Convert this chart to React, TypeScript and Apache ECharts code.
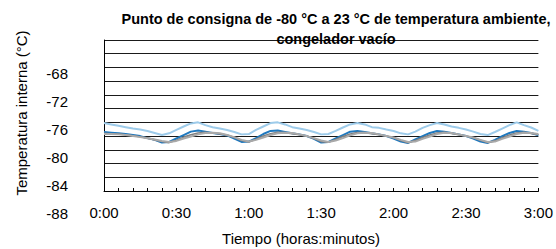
import React, { useEffect, useRef } from 'react';
import * as echarts from 'echarts';

// Time in minutes
const minutes = [
  0, 3, 6, 9, 12, 15, 18, 21, 24, 27, 30, 33, 36, 39, 42, 45, 48, 51, 54, 57,
  60, 63, 66, 69, 72, 75, 78, 81, 84, 87, 90, 93, 96, 99, 102, 105, 108, 111, 114, 117,
  120, 123, 126, 129, 132, 135, 138, 141, 144, 147, 150, 153, 156, 159, 162, 165, 168, 171, 174, 177, 180,
];

const lightBlue = [
  -76.1, -76.3, -76.5, -76.7, -76.9, -77.05, -77.25, -77.55, -77.85, -77.6,
  -77.1, -76.6, -76.15, -76.0, -76.4, -76.7, -76.9, -77.1, -77.4, -77.75,
  -77.7, -77.1, -76.6, -76.1, -76.0, -76.3, -76.7, -76.9, -77.1, -77.4,
  -77.75, -77.7, -77.25, -76.75, -76.3, -76.1, -76.3, -76.7, -76.8, -77.05,
  -77.25, -77.6, -77.75, -77.35, -76.8, -76.4, -76.1, -76.3, -76.6, -76.8,
  -77.05, -77.35, -77.7, -77.85, -77.4, -76.9, -76.4, -76.0, -76.4, -76.75, -77.25,
];

const blue = [
  -77.4, -77.5, -77.6, -77.7, -77.85, -78.0, -78.3, -78.55, -78.95, -78.85,
  -78.35, -77.85, -77.35, -77.2, -77.35, -77.55, -77.7, -77.9, -78.35, -78.85,
  -78.8, -78.3, -77.7, -77.25, -77.2, -77.4, -77.6, -77.75, -78.0, -78.4,
  -78.95, -78.85, -78.35, -77.85, -77.35, -77.25, -77.4, -77.6, -77.75, -78.0,
  -78.35, -78.8, -79.0, -78.5, -78.0, -77.55, -77.25, -77.35, -77.55, -77.75,
  -78.0, -78.35, -78.8, -79.0, -78.55, -78.0, -77.55, -77.25, -77.35, -77.55, -77.9,
];

const darkGray = [
  -77.6, -77.65, -77.7, -77.8, -77.95, -78.1, -78.3, -78.55, -78.8, -78.95,
  -78.6, -78.15, -77.8, -77.55, -77.45, -77.55, -77.7, -77.85, -78.2, -78.65,
  -78.85, -78.45, -78.0, -77.65, -77.45, -77.5, -77.65, -77.8, -78.0, -78.35,
  -78.8, -78.9, -78.5, -78.05, -77.7, -77.5, -77.5, -77.65, -77.8, -78.0,
  -78.25, -78.65, -78.95, -78.65, -78.2, -77.85, -77.55, -77.45, -77.6, -77.8,
  -78.0, -78.25, -78.6, -78.95, -78.7, -78.25, -77.85, -77.55, -77.45, -77.6, -77.8,
];

const gray = [
  -77.7, -77.7, -77.75, -77.85, -78.0, -78.15, -78.3, -78.5, -78.7, -78.85,
  -78.7, -78.35, -78.05, -77.75, -77.55, -77.5, -77.6, -77.85, -78.15, -78.55,
  -78.8, -78.55, -78.2, -77.85, -77.6, -77.5, -77.55, -77.75, -78.0, -78.3,
  -78.65, -78.85, -78.65, -78.3, -77.9, -77.6, -77.5, -77.55, -77.75, -78.0,
  -78.2, -78.55, -78.85, -78.8, -78.4, -78.05, -77.7, -77.5, -77.55, -77.75,
  -78.0, -78.2, -78.55, -78.85, -78.8, -78.4, -78.05, -77.7, -77.5, -77.55, -77.7,
];

// Printed y tick labels (from -88 to -68, step 4)
const yLabelMin = -88;
const yLabelMax = -68;
const yLabelStep = 4;

const titleText = 'Punto de consigna de -80 °C a 23 °C de temperatura ambiente,\ncongelador vacío';
const yTitle = 'Temperatura interna (°C)';
const xTitle = 'Tiempo (horas:minutos)';

const FONT = "'Liberation Sans', Arial, Helvetica, sans-serif";

const fmtTime = (v: number) => {
  const h = Math.floor(v / 60);
  const m = Math.round(v % 60);
  return `${h}:${m < 10 ? '0' : ''}${m}`;
};

export default function App() {
  const ref = useRef<HTMLDivElement>(null);
  useEffect(() => {
    if (!ref.current) return;
    const chart = echarts.init(ref.current, null, { renderer: 'svg' });
    const mk = (data: number[], color: string, width: number) => ({
      type: 'line',
      xAxisIndex: 0,
      yAxisIndex: 0,
      showSymbol: false,
      symbol: 'none',
      data: minutes.map((t, i) => [t, data[i]]),
      lineStyle: { color, width },
      itemStyle: { color },
    });
    chart.setOption({
      animation: false,
      backgroundColor: '#ffffff',
      title: {
        text: titleText,
        left: 331,
        top: 4,
        textAlign: 'center',
        textStyle: {
          fontFamily: FONT,
          fontSize: 14.5,
          fontWeight: 'bold',
          color: '#000',
          lineHeight: 20,
        },
      },
      grid: [
        { left: 104, right: 15, top: 40, bottom: 58 },
        { left: 104, right: 15, top: 73, bottom: 36 },
      ],
      xAxis: [
        {
          gridIndex: 0,
          type: 'value',
          min: 0,
          max: 180,
          interval: 6,
          axisLine: { show: true, lineStyle: { color: '#000', width: 1 } },
          axisTick: { show: true, inside: true, length: 3, lineStyle: { color: '#000' } },
          splitLine: { show: false },
          axisLabel: {
            margin: 14,
            fontFamily: FONT,
            fontSize: 15,
            color: '#000',
            formatter: (v: number) => (v % 30 === 0 ? fmtTime(v) : ''),
          },
        },
        { gridIndex: 1, type: 'value', min: 0, max: 180, show: false },
      ],
      yAxis: [
        {
          gridIndex: 0,
          type: 'value',
          min: -86,
          max: -64,
          interval: 2,
          axisLine: { show: true, lineStyle: { color: '#000', width: 1 } },
          axisTick: { show: false },
          axisLabel: { show: false },
          splitLine: { show: true, lineStyle: { color: '#1a1a1a', width: 1 } },
        },
        {
          gridIndex: 1,
          type: 'value',
          min: yLabelMin,
          max: yLabelMax,
          interval: yLabelStep,
          axisLine: { show: false },
          axisTick: { show: false },
          splitLine: { show: false },
          axisLabel: {
            margin: 36,
            fontFamily: FONT,
            fontSize: 15,
            color: '#000',
          },
        },
      ],
      graphic: [
        {
          type: 'text',
          x: 21,
          y: 113,
          rotation: Math.PI / 2,
          style: {
            text: yTitle,
            font: `15px ${FONT}`,
            fill: '#000',
            textAlign: 'center',
            textVerticalAlign: 'middle',
          },
        },
        {
          type: 'text',
          x: 301,
          y: 238,
          style: {
            text: xTitle,
            font: `15px ${FONT}`,
            fill: '#000',
            textAlign: 'center',
            textVerticalAlign: 'middle',
          },
        },
      ],
      series: [
        mk(lightBlue, '#9DCBEA', 2),
        mk(blue, '#1F78BE', 2),
        mk(darkGray, '#7F7F7F', 1.6),
        mk(gray, '#A9A9A9', 2),
      ],
    });
    return () => chart.dispose();
  }, []);
  return (
    <div
      ref={ref}
      style={{ position: 'fixed', left: 0, top: 0, width: 556, height: 249 }}
    />
  );
}
